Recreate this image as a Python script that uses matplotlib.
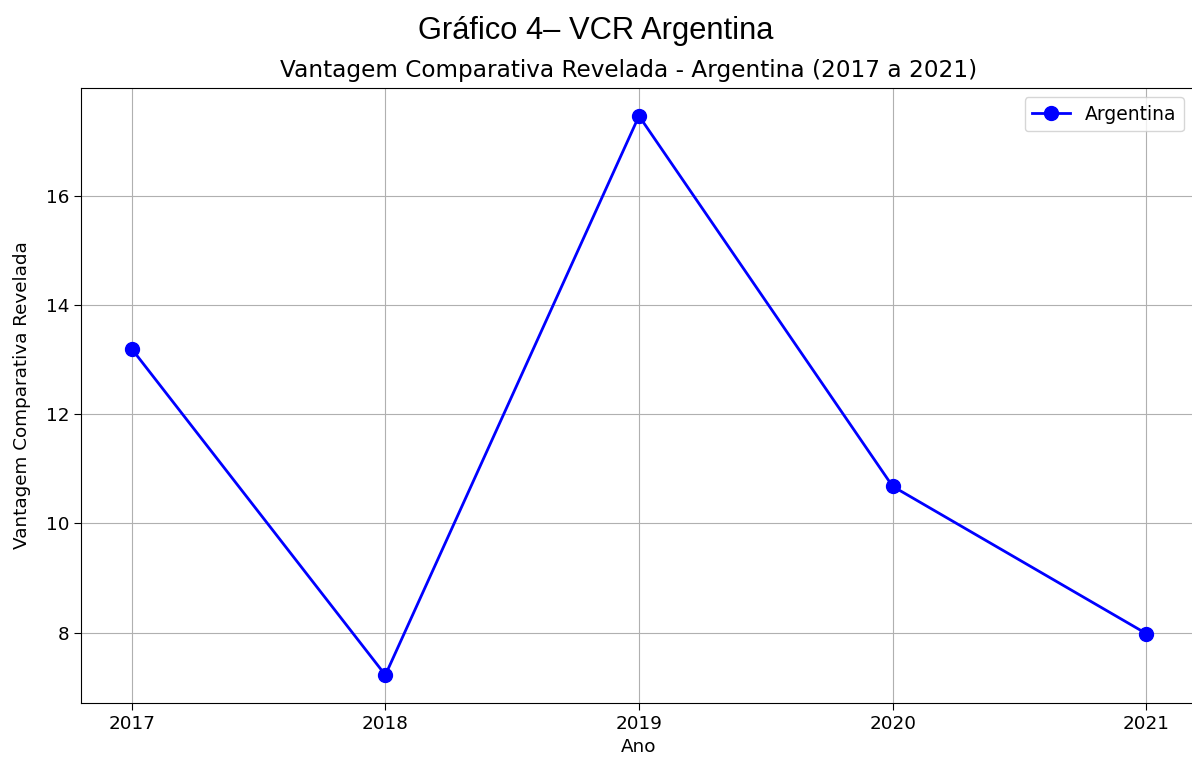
import matplotlib
matplotlib.use("Agg")
import matplotlib.pyplot as plt

anos = [2017, 2018, 2019, 2020, 2021]
vcr = [13.20, 7.22, 17.47, 10.68, 7.98]

fig = plt.figure(figsize=(11.92, 7.58), dpi=100)
# axes run slightly past the right edge, as in the cropped original
ax = fig.add_axes([81 / 1192, 1 - 703 / 758, (1197 - 81) / 1192, (703 - 88) / 758])

ax.plot(anos, vcr, marker="o", color="blue", linewidth=2, markersize=10, label="Argentina")
ax.set_xticks(anos)
ax.tick_params(labelsize=13.2, length=5)
ax.grid(True)
ax.set_xlabel("Ano", fontsize=13.2)
ax.set_ylabel("Vantagem Comparativa Revelada", fontsize=13.2)
ax.yaxis.set_label_coords(-50 / 1116, 0.5)
ax.set_title("Vantagem Comparativa Revelada - Argentina (2017 a 2021)", fontsize=16.7,
             pad=8, x=0.5 - 10 / 1116)
ax.legend(fontsize=13.5, loc="upper right", bbox_to_anchor=(1 - 4 / 1116, 1))

fig.text(0.5, 1 - 31 / 758, "Gráfico 4– VCR Argentina", ha="center", va="center",
         fontsize=22.2, family="Liberation Sans")

fig.savefig("out.png", dpi=100)
